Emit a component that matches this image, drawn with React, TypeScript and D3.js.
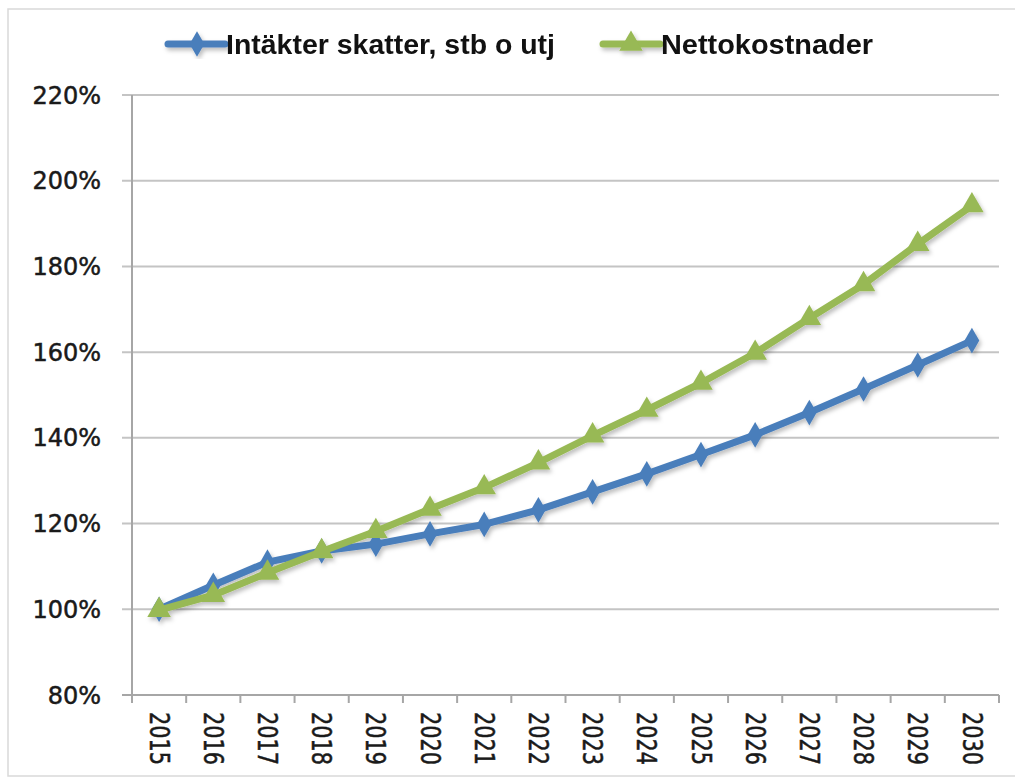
import React from "react";
import * as d3 from "d3";

const years = ["2015","2016","2017","2018","2019","2020","2021","2022","2023","2024","2025","2026","2027","2028","2029","2030"];
const intakter = [100, 105.6, 111.0, 113.6, 115.2, 117.6, 119.8, 123.2, 127.4, 131.6, 136.1, 140.7, 145.9, 151.4, 157.0, 162.7];
const netto = [99.8, 103.3, 108.5, 113.5, 118.2, 123.4, 128.4, 134.2, 140.5, 146.5, 152.8, 159.8, 167.9, 175.8, 185.2, 194.2];
const yTicks = [80, 100, 120, 140, 160, 180, 200, 220];
const seriesNames = ["Intäkter skatter, stb o utj", "Nettokostnader"];
const colors = ["#4a7ebb", "#98b954"];

const W = 1015, H = 780;
const left = 132, right = 999, top = 95, bottom = 695;

export default function App() {
  const x = d3.scaleBand<string>().domain(years).range([left, right]);
  const y = d3.scaleLinear().domain([80, 220]).range([bottom, top]);
  const cx = (d: string) => (x(d) as number) + x.bandwidth() / 2;
  const line = d3.line<number>().x((_, i) => cx(years[i])).y((v) => y(v));
  const diamond = d3.symbol().type(d3.symbolDiamond).size(190)() as string;
  const tri = d3.symbol().type(d3.symbolTriangle).size(240)() as string;
  const ticksX = [...years.map((d) => x(d) as number), right];

  return (
    <svg width={W} height={H} style={{ position: "absolute", left: 0, top: 0, background: "#fff" }}>
      <defs>
        <filter id="sh" x="-5%" y="-5%" width="110%" height="110%">
          <feDropShadow dx="2" dy="3" stdDeviation="2" floodColor="#000" floodOpacity="0.25" />
        </filter>
      </defs>
      <rect x={0} y={0} width={W} height={H} fill="#fff" />
      <rect x={8} y={9} width={1020} height={767} fill="none" stroke="#d9d9d9" strokeWidth={1.5} />
      {yTicks.map((t) => (
        <line key={t} x1={122} x2={right} y1={y(t)} y2={y(t)} stroke={t === 80 ? "#a6a6a6" : "#c4c4c4"} strokeWidth={2} />
      ))}
      <line x1={left} x2={left} y1={top} y2={bottom + 8} stroke="#a6a6a6" strokeWidth={2} />
      {ticksX.map((tx, i) => (
        <line key={i} x1={tx} x2={tx} y1={bottom} y2={bottom + 8} stroke="#a6a6a6" strokeWidth={2} />
      ))}
      {yTicks.map((t) => (
        <text key={t} x={101} y={y(t)} dy="0.36em" textAnchor="end" fontFamily="DejaVu Sans, sans-serif" fontSize={24}
          fill="#1a1a1a" stroke="#1a1a1a" strokeWidth={0.5}>
          {t}%
        </text>
      ))}
      {years.map((d) => (
        <text key={d} transform={`translate(${cx(d)},${712}) rotate(90)`} dy="0.36em" textAnchor="start"
          fontFamily="DejaVu Sans, sans-serif" fontSize={26} textLength={53} lengthAdjust="spacingAndGlyphs"
          fill="#1a1a1a" stroke="#1a1a1a" strokeWidth={0.5}>
          {d}
        </text>
      ))}
      <g filter="url(#sh)">
        <path d={line(intakter) as string} fill="none" stroke={colors[0]} strokeWidth={7} strokeLinejoin="round" />
        {intakter.map((v, i) => (
          <path key={i} d={diamond} transform={`translate(${cx(years[i])},${y(v)})`} fill={colors[0]} />
        ))}
        <path d={line(netto) as string} fill="none" stroke={colors[1]} strokeWidth={7} strokeLinejoin="round" />
        {netto.map((v, i) => (
          <path key={i} d={tri} transform={`translate(${cx(years[i])},${y(v)})`} fill={colors[1]} />
        ))}
      </g>
      <g filter="url(#sh)">
        <line x1={168} x2={225} y1={44} y2={44} stroke={colors[0]} strokeWidth={7} strokeLinecap="round" />
        <path d={diamond} transform="translate(197,44)" fill={colors[0]} />
        <line x1={603} x2={660} y1={44} y2={44} stroke={colors[1]} strokeWidth={7} strokeLinecap="round" />
        <path d={tri} transform="translate(631,44)" fill={colors[1]} />
      </g>
      <text x={226} y={44} dy="0.36em" fontFamily="Liberation Sans, Arial, sans-serif" fontWeight={700} fontSize={27}
        textLength={329} lengthAdjust="spacingAndGlyphs" fill="#111">{seriesNames[0]}</text>
      <text x={661} y={44} dy="0.36em" fontFamily="Liberation Sans, Arial, sans-serif" fontWeight={700} fontSize={27}
        textLength={212} lengthAdjust="spacingAndGlyphs" fill="#111">{seriesNames[1]}</text>
    </svg>
  );
}
